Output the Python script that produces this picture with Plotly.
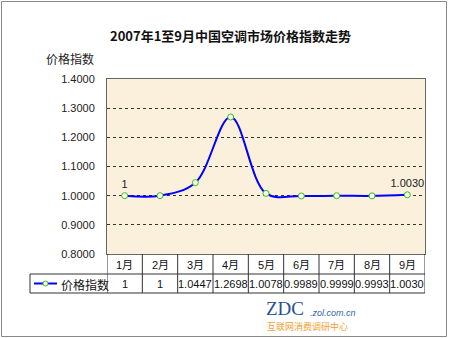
import plotly.graph_objects as go

# Monthly air-conditioner price index, Jan-Sep 2007
months = ["1月", "2月", "3月", "4月", "5月", "6月", "7月", "8月", "9月"]
index_values = [1, 1, 1.0447, 1.2698, 1.0078, 0.9989, 0.9999, 0.9993, 1.0030]
series_name = "价格指数"
title_text = "2007年1至9月中国空调市场价格指数走势"
y_ticks = [0.8, 0.9, 1.0, 1.1, 1.2, 1.3, 1.4]


def fmt(v):
    return "1" if v == 1 else f"{v:.4f}"


# canvas & plot-area geometry (pixels)
W, H = 450, 338
L, R, T, B = 107, 25, 79, 84
PW, PH = W - L - R, H - T - B


def px(x):
    return (x - L) / PW


def py(y):
    return (H - B - y) / PH


point_text = [""] * len(index_values)
point_text[0] = fmt(index_values[0])
point_text[-1] = fmt(index_values[-1])

fig = go.Figure()
fig.add_trace(go.Scatter(
    x=list(range(len(months))), y=index_values,
    mode="lines+markers+text",
    line=dict(color="#0000FF", width=2, shape="spline", smoothing=1.0),
    marker=dict(symbol="circle", size=6, color="#FFFFE0",
                line=dict(color="#33BB33", width=1)),
    text=point_text, textposition="top center",
    textfont=dict(family="Arial, Liberation Sans", size=11, color="#222"),
    showlegend=False, cliponaxis=False,
))

shapes = []
line_c = "#333"
# data table below the plot
row1_bot, row2_bot = py(274), py(293)
for i in range(len(months) + 1):
    shapes.append(dict(type="line", xref="x", yref="paper",
                       x0=i - 0.5, x1=i - 0.5, y0=0, y1=row2_bot,
                       line=dict(color=line_c, width=1)))
shapes.append(dict(type="line", xref="paper", yref="paper",
                   x0=px(30), x1=1, y0=row1_bot, y1=row1_bot,
                   line=dict(color=line_c, width=1)))
shapes.append(dict(type="line", xref="paper", yref="paper",
                   x0=px(30), x1=1, y0=row2_bot, y1=row2_bot,
                   line=dict(color=line_c, width=1)))
shapes.append(dict(type="line", xref="paper", yref="paper",
                   x0=px(30), x1=px(30), y0=row1_bot, y1=row2_bot,
                   line=dict(color=line_c, width=1)))
# legend key inside the table
key_y = py(283.5)
shapes.append(dict(type="line", xref="paper", yref="paper",
                   x0=px(34), x1=px(57), y0=key_y, y1=key_y,
                   line=dict(color="#0000FF", width=2)))
shapes.append(dict(type="circle", xref="paper", yref="paper",
                   x0=px(43), x1=px(48), y0=py(286), y1=py(281),
                   fillcolor="#FFFFE0", line=dict(color="#33BB33", width=1)))
# outer frame
shapes.append(dict(type="rect", xref="paper", yref="paper",
                   x0=px(1.5), x1=px(446.5), y0=py(336.5), y1=py(1.5),
                   line=dict(color="#888", width=1), layer="below"))


def label(x, y, text, font, xref="paper", xanchor="center"):
    return dict(x=x, y=y, xref=xref, yref="paper", text=text, showarrow=False,
                xanchor=xanchor, yanchor="middle", font=font)


cell_font = dict(family="Arial, Liberation Sans, Noto Sans CJK SC", size=11, color="#111")
annotations = []
for i, (m, v) in enumerate(zip(months, index_values)):
    annotations.append(label(i, py(264.5), m, cell_font, xref="x"))
    annotations.append(label(i, py(284), fmt(v), cell_font, xref="x"))
annotations.append(label(px(59), py(284), series_name,
                         dict(family="Noto Sans CJK SC", size=12, color="#111"),
                         xanchor="left"))
# chart & axis titles
annotations.append(label(px(230), py(35), f"<b>{title_text}</b>",
                         dict(family="Noto Sans CJK SC", size=13, color="#111")))
annotations.append(label(px(44), py(59), series_name,
                         dict(family="Noto Sans CJK SC", size=12, color="#222"),
                         xanchor="left"))
# ZDC logo
annotations.append(label(px(264), py(308), "ZDC",
                         dict(family="Liberation Serif", size=19, color="#2A4F9A"),
                         xanchor="left"))
annotations.append(label(px(308), py(313), "<i>.zol.com.cn</i>",
                         dict(family="Arial, Liberation Sans", size=9, color="#3366AA"),
                         xanchor="left"))
annotations.append(label(px(265), py(326), "互联网消费调研中心",
                         dict(family="Noto Sans CJK SC", size=9, color="#F0A030"),
                         xanchor="left"))

fig.update_layout(
    width=W, height=H,
    margin=dict(l=L, r=R, t=T, b=B),
    paper_bgcolor="white", plot_bgcolor="#FAF0DC",
    shapes=shapes, annotations=annotations,
    xaxis=dict(range=[-0.5, len(months) - 0.5], showticklabels=False,
               showgrid=False, zeroline=False, ticks="",
               showline=True, mirror=True, linecolor="#666", linewidth=1),
    yaxis=dict(range=[0.8, 1.4], tickvals=y_ticks, tickformat=".4f",
               tickfont=dict(family="Arial, Liberation Sans", size=11, color="#222"),
               ticks="", ticklabelstandoff=9,
               showgrid=True, gridcolor="#333", gridwidth=1, griddash="3px,3px",
               zeroline=False, showline=True, mirror=True,
               linecolor="#666", linewidth=1),
)

fig.write_html("out.html")
